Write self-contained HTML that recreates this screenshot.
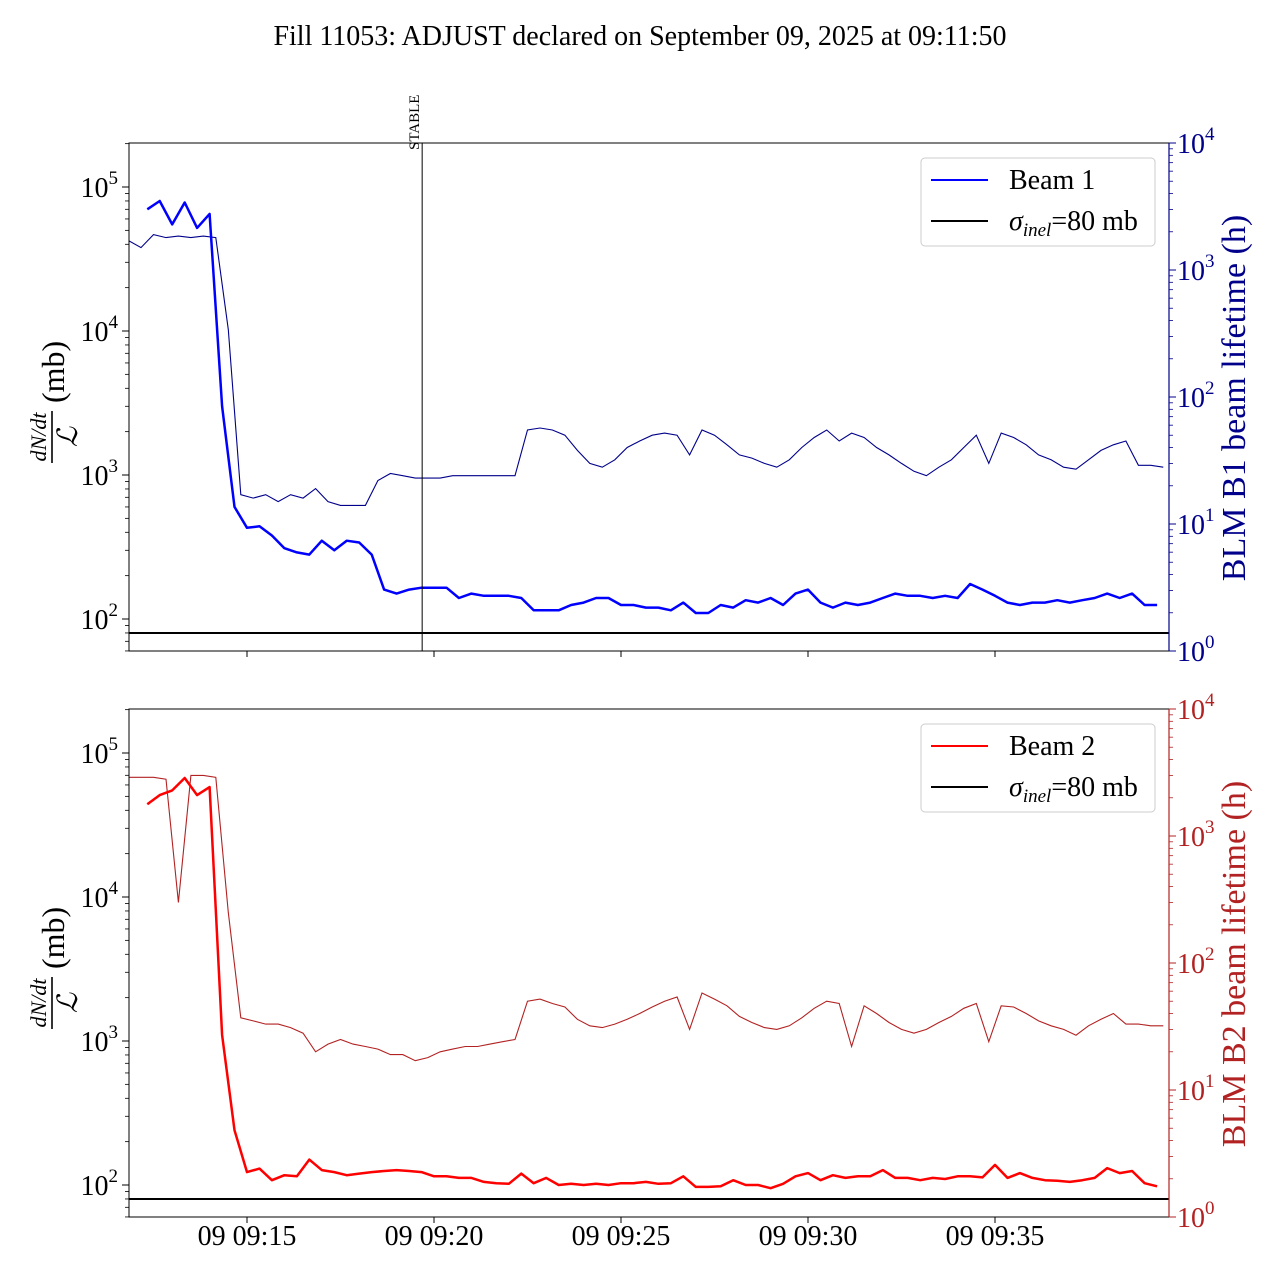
<!DOCTYPE html>
<html><head><meta charset="utf-8">
<style>
html,body{margin:0;padding:0;background:#fff;}
svg{display:block;font-family:"Liberation Serif","DejaVu Serif",serif;}
</style></head>
<body>
<svg id="chart" width="1280" height="1280" viewBox="0 0 1280 1280" xmlns="http://www.w3.org/2000/svg">
<rect width="1280" height="1280" fill="#fff"/>
<text x="640" y="45" text-anchor="middle" font-size="28">Fill 11053: ADJUST declared on September 09, 2025 at 09:11:50</text>
</svg>
<script>
// ---- data ----
// Beam loss cross-section sampled every 20 s, starting 09:12:20
const lossStart = "09:12:20";
const lossStepSec = 20;
const beam1Loss = [70000,80000,55000,78000,52000,65000,3000,600,430,440,380,310,290,280,350,300,350,340,280,160,150,160,165,165,165,140,150,145,145,145,140,115,115,115,125,130,140,140,125,125,120,120,115,130,110,110,125,120,135,130,140,125,150,160,130,120,130,125,130,140,150,145,145,140,145,140,175,160,145,130,125,130,130,135,130,135,140,150,140,150,125,125];
const beam2Loss = [44000,51000,55000,67000,51000,58000,1100,240,123,130,108,117,115,150,127,123,117,120,123,125,127,125,123,115,115,112,112,105,103,102,120,103,112,100,102,100,102,100,103,103,105,102,103,115,97,97,98,108,100,100,95,102,115,121,108,117,112,115,115,127,112,112,108,112,110,115,115,113,138,112,121,112,108,107,105,108,112,131,121,125,103,98];
// BLM lifetimes (h) sampled every 20 s, starting 09:11:50
const blmStart = "09:11:50";
const blmStepSec = 20;
const blmB1 = [1700,1500,1900,1800,1850,1800,1850,1800,340,17,16,17,15,17,16,19,15,14,14,14,22,25,24,23,23,23,24,24,24,24,24,24,55,57,55,50,38,30,28,32,40,45,50,52,50,35,55,50,42,35,33,30,28,32,40,48,55,45,52,48,40,35,30,26,24,28,32,40,50,30,52,48,42,35,32,28,27,32,38,42,45,29,29,28];
const blmB2 = [2900,2900,2900,2800,300,3000,3000,2900,250,37,35,33,33,31,28,20,23,25,23,22,21,19,19,17,18,20,21,22,22,23,24,25,50,52,48,45,36,32,31,33,36,40,45,50,54,30,58,52,46,38,34,31,30,32,37,44,50,48,22,46,40,34,30,28,30,34,38,44,48,24,46,45,40,35,32,30,27,32,36,40,33,33,32,32];
const sigmaInel = 80;
const stableTime = "09:19:41";
const xTickLabels = ["09 09:15","09 09:20","09 09:25","09 09:30","09 09:35"];
const xTickTimes = ["09:15:00","09:20:00","09:25:00","09:30:00","09:35:00"];
const leftTickExps = [2,3,4,5];
const rightTickExps = [0,1,2,3,4];

// ---- layout ----
const NS="http://www.w3.org/2000/svg";
const svg=document.getElementById('chart');
const X0=129,X1=1169;
const panels=[
 {top:143,bot:651,loss:beam1Loss,blm:blmB1,lc:'#0000ff',rc:'#00008b',name:'beam-1',label:'Beam 1',rlabel:'BLM B1 beam lifetime (h)'},
 {top:709,bot:1217,loss:beam2Loss,blm:blmB2,lc:'#ff0000',rc:'#b22222',name:'beam-2',label:'Beam 2',rlabel:'BLM B2 beam lifetime (h)'}
];
function sec(t){const p=t.split(':').map(Number);return p[0]*3600+p[1]*60+(p[2]||0);}
const T15=sec("09:15:00");
function xs(s){return 247+(s-T15)*37.4/60;}
function el(tag,attrs,parent){const e=document.createElementNS(NS,tag);for(const k in attrs)e.setAttribute(k,attrs[k]);(parent||svg).appendChild(e);return e;}

panels.forEach((P,pi)=>{
 const yL=v=>P.bot-32-144*(Math.log10(v)-2);
 const yR=v=>P.bot-(P.bot-P.top)*Math.log10(v)/4;
 const g=el('g',{});
 
 
 const clipId='clip'+pi;
 const cp=el('clipPath',{id:clipId},g);el('rect',{x:X0,y:P.top,width:X1-X0,height:P.bot-P.top},cp);
 let d='';const b0=sec(blmStart);
 P.blm.forEach((v,i)=>{d+=(i?'L':'M')+xs(b0+i*blmStepSec).toFixed(1)+','+yR(v).toFixed(1);});
 const bl=el('path',{d:d,fill:'none',stroke:P.rc,'stroke-width':1.1,'clip-path':'url(#'+clipId+')'},g);
 
 
 d='';const l0=sec(lossStart);
 P.loss.forEach((v,i)=>{d+=(i?'L':'M')+xs(l0+i*lossStepSec).toFixed(1)+','+yL(v).toFixed(1);});
 const ll=el('path',{d:d,fill:'none',stroke:P.lc,'stroke-width':2.5,'stroke-linejoin':'round','clip-path':'url(#'+clipId+')'},g);
 
 
 const sl=el('line',{x1:X0,x2:X1,y1:yL(sigmaInel),y2:yL(sigmaInel),stroke:'#000','stroke-width':2},g);
 
 
 if(pi===0){
  const sx=xs(sec(stableTime));
  const st=el('line',{x1:sx,x2:sx,y1:P.top,y2:P.bot,stroke:'#000','stroke-width':1},g);
  
  
  const tt=el('text',{transform:'translate('+(sx-3)+','+(P.top+7)+') rotate(-90)','font-size':15},g);
  tt.textContent='STABLE';
  
  
 }
 el('rect',{x:X0,y:P.top,width:X1-X0,height:P.bot-P.top,fill:'none',stroke:'#000','stroke-width':1},g);
 el('line',{x1:X1,x2:X1,y1:P.top,y2:P.bot,stroke:P.rc,'stroke-width':1.2},g);
 for(let e=1;e<=5;e++){for(let m=1;m<10;m++){const v=m*Math.pow(10,e);const y=yL(v);if(y<P.top-0.5||y>P.bot+0.5)continue;
   el('line',{x1:X0,x2:X0-(m===1?7:4),y1:y,y2:y,stroke:'#000','stroke-width':m===1?1:0.8},g);}}
 leftTickExps.forEach(e=>{const y=yL(Math.pow(10,e));
   const t=el('text',{x:118,y:y+10,'text-anchor':'end','font-size':28},g);
   t.innerHTML='10<tspan font-size="19" dy="-13">'+e+'</tspan>';
   
   });
 for(let e=0;e<4;e++){for(let m=1;m<10;m++){const v=m*Math.pow(10,e);const y=yR(v);
   el('line',{x1:X1,x2:X1+(m===1?7:4),y1:y,y2:y,stroke:P.rc,'stroke-width':m===1?1:0.8},g);}}
 el('line',{x1:X1,x2:X1+7,y1:yR(1e4),y2:yR(1e4),stroke:P.rc},g);
 rightTickExps.forEach(e=>{const y=yR(Math.pow(10,e));
   const t=el('text',{x:1177,y:y+10,'font-size':28,fill:P.rc},g);
   t.innerHTML='10<tspan font-size="19" dy="-13">'+e+'</tspan>';
   
   });
 xTickTimes.forEach((tm,i)=>{const x=xs(sec(tm));
   el('line',{x1:x,x2:x,y1:P.bot,y2:P.bot+6,stroke:'#000'},g);
   if(pi===1){const t=el('text',{x:x,y:P.bot+28,'text-anchor':'middle','font-size':28},g);t.textContent=xTickLabels[i];
     
     }});
 const cy=(P.top+P.bot)/2;
 const lg=el('g',{transform:'translate(52,'+(cy+68)+') rotate(-90)'},g);
 
 
 el('line',{x1:2,x2:54,y1:0,y2:0,stroke:'#000','stroke-width':1.6},lg);
 let t=el('text',{x:28,y:-6,'text-anchor':'middle','font-size':22,'font-style':'italic'},lg);t.textContent='dN/dt';
 t=el('text',{x:28,y:25,'text-anchor':'middle','font-size':28,'font-style':'italic'},lg);t.textContent='ℒ';
 t=el('text',{x:62,y:12,'font-size':32},lg);t.textContent='(mb)';
 t=el('text',{transform:'translate(1245,'+(cy+1)+') rotate(-90)','text-anchor':'middle','font-size':34,fill:P.rc},g);
 t.textContent=P.rlabel;
 
 
 const ly=P.top+15;
 const lgd=el('g',{},g);
 
 
 el('rect',{x:921,y:ly,width:234,height:88,rx:4,fill:'#fff','fill-opacity':0.8,stroke:'#ccc'},lgd);
 el('line',{x1:931,x2:988,y1:ly+22,y2:ly+22,stroke:P.lc,'stroke-width':2},lgd);
 t=el('text',{x:1009,y:ly+31,'font-size':28},lgd);t.textContent=P.label;
 el('line',{x1:931,x2:988,y1:ly+63,y2:ly+63,stroke:'#000','stroke-width':2},lgd);
 t=el('text',{x:1009,y:ly+72,'font-size':28},lgd);
 t.innerHTML='<tspan font-style="italic">σ</tspan><tspan font-size="19" font-style="italic" dy="6">inel</tspan><tspan dy="-6">=80 mb</tspan>';
});
</script>
</body></html>
